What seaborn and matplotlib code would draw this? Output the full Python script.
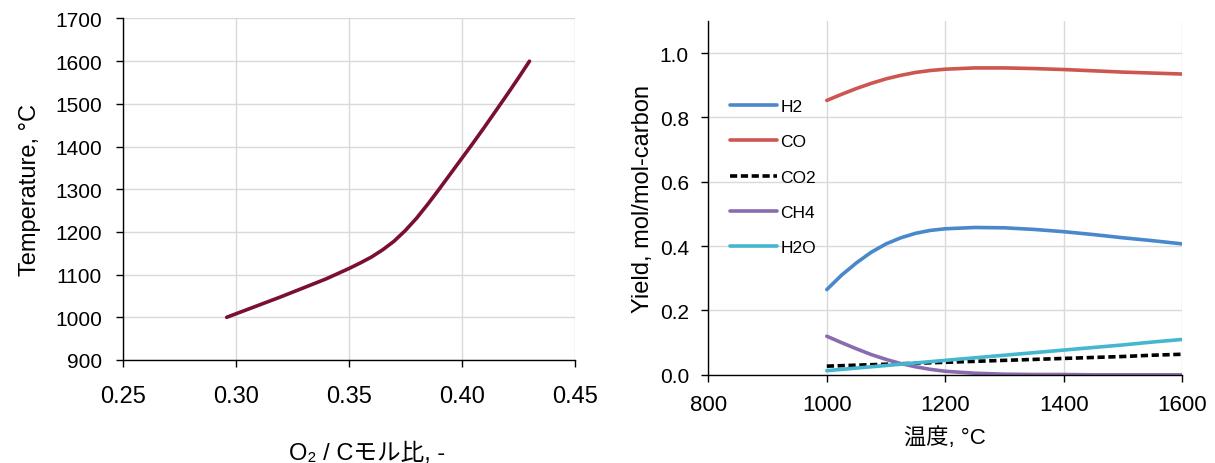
import numpy as np
import pandas as pd
import matplotlib
matplotlib.use('Agg')
import matplotlib.pyplot as plt
import seaborn as sns

# left: O2/C ratio vs temperature
o2c = [0.296, 0.30, 0.31, 0.32, 0.33, 0.34, 0.35, 0.355, 0.36, 0.365, 0.37, 0.375, 0.38,
       0.385, 0.39, 0.395, 0.40, 0.405, 0.41, 0.415, 0.42, 0.425, 0.43]
temp = [1000, 1008, 1028, 1048, 1069, 1090, 1114, 1127, 1141, 1158, 1178, 1203, 1232,
        1265, 1300, 1336, 1372, 1408, 1445, 1483, 1521, 1560, 1600]

# right: yields vs temperature
T = [1000, 1025, 1050, 1075, 1100, 1125, 1150, 1175, 1200, 1250, 1300, 1350, 1400, 1450, 1500, 1550, 1600]
h2 = [0.265, 0.31, 0.348, 0.381, 0.407, 0.426, 0.440, 0.449, 0.454, 0.458, 0.457, 0.452,
      0.445, 0.436, 0.426, 0.417, 0.407]
co = [0.853, 0.872, 0.890, 0.906, 0.920, 0.931, 0.940, 0.946, 0.950, 0.954, 0.954, 0.952,
      0.949, 0.945, 0.941, 0.938, 0.935]
co2 = [0.027, 0.0285, 0.030, 0.0315, 0.033, 0.0345, 0.036, 0.0375, 0.039, 0.042, 0.045,
       0.048, 0.051, 0.054, 0.057, 0.061, 0.064]
ch4 = [0.120, 0.100, 0.081, 0.063, 0.048, 0.035, 0.025, 0.017, 0.011, 0.005, 0.002, 0.001,
       0.001, 0.0, 0.0, 0.0, 0.0]
h2o = [0.013, 0.017, 0.021, 0.025, 0.029, 0.033, 0.037, 0.041, 0.045, 0.053, 0.061, 0.069,
       0.077, 0.085, 0.093, 0.102, 0.110]
species = ['H2', 'CO', 'CO2', 'CH4', 'H2O']
colors = ['#4a88cc', '#cd5650', '#000000', '#8b6bb0', '#45b6d0']

sns.set_style('ticks')
plt.rcParams['font.family'] = ['Liberation Sans', 'Noto Sans CJK JP', 'DejaVu Sans']
plt.rcParams['text.color'] = 'black'
plt.rcParams['axes.labelcolor'] = 'black'
plt.rcParams['xtick.color'] = 'black'
plt.rcParams['ytick.color'] = 'black'

fig = plt.figure(figsize=(12.15, 4.64), dpi=100)
ax1 = fig.add_axes([0.101, 0.222, 0.372, 0.736])
ax2 = fig.add_axes([0.583, 0.19, 0.39, 0.7627])

left = pd.DataFrame({'O2/C': o2c, 'Temperature': temp})
sns.lineplot(x='O2/C', y='Temperature', data=left, ax=ax1, color='#7a0f33', lw=2.6, sort=False)
ax1.set_xlim(0.25, 0.45)
ax1.set_ylim(900, 1700)
ax1.set_xticks([0.25, 0.30, 0.35, 0.40, 0.45])
ax1.set_xticklabels(['0.25', '0.30', '0.35', '0.40', '0.45'])
ax1.set_yticks(range(900, 1701, 100))
ax1.tick_params(axis='x', labelsize=17, pad=13)
ax1.tick_params(axis='y', labelsize=15, pad=10)
ax1.set_xlabel('O₂ / Cモル比, -', fontsize=17)
ax1.xaxis.set_label_coords(0.54, -0.24)
ax1.set_ylabel('Temperature, °C', fontsize=17, labelpad=10)
ax1.grid(True, color='#d9d9d9', lw=1)

tidy = pd.DataFrame({'T': T, 'H2': h2, 'CO': co, 'CO2': co2, 'CH4': ch4, 'H2O': h2o})
tidy = tidy.melt(id_vars='T', var_name='species', value_name='yield')
sns.lineplot(x='T', y='yield', hue='species', style='species', data=tidy, ax=ax2,
             palette=dict(zip(species, colors)), hue_order=species,
             dashes={'H2': '', 'CO': '', 'CO2': (2, 1), 'CH4': '', 'H2O': ''}, lw=2.6)
ax2.set_xlim(800, 1600)
ax2.set_ylim(0, 1.1)
ax2.set_xticks(range(800, 1601, 200))
ax2.set_yticks([0.0, 0.2, 0.4, 0.6, 0.8, 1.0])
ax2.set_yticklabels(['0.0', '0.2', '0.4', '0.6', '0.8', '1.0'])
ax2.tick_params(axis='x', labelsize=16, pad=9)
ax2.tick_params(axis='y', labelsize=15, pad=9)
ax2.set_xlabel('温度, °C', fontsize=16, labelpad=8)
ax2.set_ylabel('Yield, mol/mol-carbon', fontsize=17, labelpad=4)
ax2.grid(True, color='#d9d9d9', lw=1)
ax2.legend(title='', loc='center left', bbox_to_anchor=(0.046, 0.559), frameon=False,
           fontsize=12.5, labelspacing=1.15, handlelength=2.7, handletextpad=0.2,
           borderpad=0, borderaxespad=0)

for ax in (ax1, ax2):
    sns.despine(ax=ax)
    ax.tick_params(direction='out', length=5, width=1, color='black')
    for s in ('left', 'bottom'):
        ax.spines[s].set_color('black')
        ax.spines[s].set_linewidth(1)

fig.savefig('out.png', dpi=100)
